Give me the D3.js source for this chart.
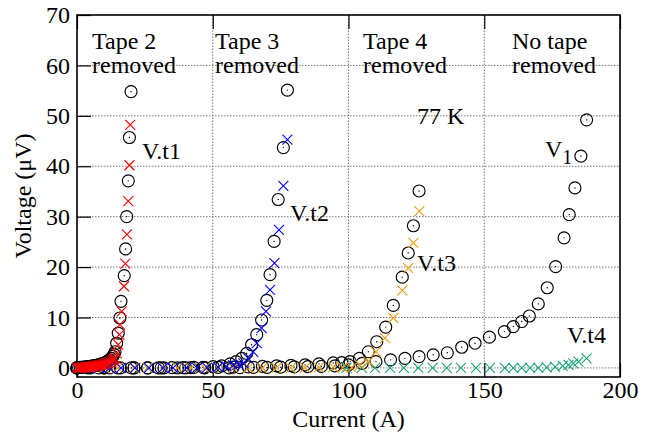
<!DOCTYPE html>
<html>
<head>
<meta charset="utf-8">
<script src="https://cdn.jsdelivr.net/npm/d3@7"></script>
<style>
  body { margin: 0; background: #fff; }
  svg text { font-family: 'Liberation Serif', 'Times New Roman', serif; fill: #000; }
</style>
</head>
<body>
<div id="chart"></div>
<script>
// ---- data (current in A, voltage in uV) ----
const xTicks = [0, 50, 100, 150, 200];
const yTicks = [0, 10, 20, 30, 40, 50, 60, 70];

// Tape 2 removed
const curA = [0, 0.6, 1.2, 1.8, 2.4, 3, 3.6, 4.2, 4.8, 5.4, 6, 6.6, 7.2, 7.8, 8.4, 9, 9.6, 10.2, 10.8, 11.4, 12, 12.6, 13.2, 13.6, 14.0, 14.6, 15.2, 15.8, 16.2, 17.4, 17.9, 18.3, 18.9, 19.3, 19.9];
const volA = [0, 0.05, 0.1, 0.1, 0.15, 0.2, 0.2, 0.25, 0.3, 0.35, 0.4, 0.45, 0.5, 0.6, 0.7, 0.8, 0.9, 1.0, 1.2, 1.4, 1.6, 1.9, 2.3, 2.7, 3.2, 4.9, 6.9, 9.9, 13.2, 18.3, 23.6, 30.0, 37.1, 45.7, 54.8];
const curT1 = [0, 0.6, 1.2, 1.8, 2.4, 3, 3.6, 4.2, 4.8, 5.4, 6, 6.6, 7.2, 7.8, 8.4, 9, 9.6, 10.2, 10.8, 11.4, 12, 12.6, 13.2, 13.6, 14.0, 14.6, 15.2, 15.6, 15.8, 16.5, 17.3, 17.8, 18.4, 18.9, 19.3, 19.6];
const volT1 = [0, 0, 0.05, 0.05, 0.1, 0.1, 0.15, 0.2, 0.2, 0.25, 0.3, 0.35, 0.4, 0.5, 0.55, 0.6, 0.7, 0.8, 0.9, 1.0, 1.1, 1.3, 1.5, 1.7, 1.9, 2.9, 4.6, 6.6, 8.6, 11.2, 16.2, 20.7, 26.5, 33.1, 40.2, 48.2];

// Tape 3 removed
const curB = [0, 4, 8, 12, 16, 21, 26, 31, 35, 39, 43, 46.4, 50.1, 53.3, 56.4, 58.6, 60.7, 62.5, 64.3, 66.2, 68.0, 69.9, 71.1, 72.6, 74.1, 76.0, 77.5];
const volB = [0, 0, 0, 0, 0, 0, 0, 0, 0.05, 0.05, 0.1, 0.1, 0.26, 0.4, 0.8, 1.25, 1.9, 2.9, 4.6, 6.6, 9.5, 13.4, 18.5, 25.1, 33.4, 43.7, 55.1];
const curT2 = [0, 4, 8, 12, 16.2, 21.4, 26.5, 31.7, 35.4, 40.5, 44.2, 47.9, 52, 55, 57.5, 59.5, 61.3, 63.1, 64.9, 66.2, 68.0, 69.6, 71.1, 72.7, 74.4, 76.0, 77.5];
const volT2 = [0, 0, 0, 0, 0, 0, 0, 0, 0, 0, 0, 0.05, 0.15, 0.3, 0.5, 0.7, 0.9, 1.9, 3.2, 4.9, 7.9, 11.2, 15.5, 20.8, 27.4, 36.1, 45.3];

// Tape 4 removed
const curC = [0, 5, 10, 15, 21, 26, 32, 37, 42, 47, 52, 57.5, 63.1, 68.3, 73.5, 78.8, 84.0, 89.1, 94.4, 97.5, 100.6, 104.0, 107.3, 110.4, 113.7, 116.5, 119.8, 122.0, 123.9, 126.0];
const volC = [0, 0, 0, 0, 0, 0, 0, 0, 0.05, 0.05, 0.1, 0.15, 0.2, 0.3, 0.4, 0.5, 0.6, 0.8, 1.0, 1.05, 1.25, 1.9, 3.2, 5.2, 8.1, 12.4, 18.0, 22.8, 28.2, 35.1];
const curT3 = [0, 5, 10, 15, 21, 26, 32, 37, 42, 47, 52, 57.5, 63.1, 68.3, 73.5, 78.8, 84.0, 89.1, 94.4, 98.0, 101.2, 104.2, 107.3, 110.1, 113.4, 116.5, 119.8, 122.0, 123.9, 126.1];
const volT3 = [0, 0, 0, 0, 0, 0, 0, 0, 0, 0, 0, 0, 0, 0, 0, 0, 0.05, 0.1, 0.15, 0.1, 0, 0.6, 1.25, 3.2, 5.9, 9.9, 15.4, 19.8, 24.8, 31.1];

// No tape removed
const curD = [0, 10, 20, 30, 40, 47, 56, 60, 65, 70, 75, 80, 85, 90, 95, 100, 105, 110.1, 115.5, 120.8, 126.0, 131.2, 136.4, 141.7, 146.6, 151.9, 157.4, 160.7, 163.8, 166.6, 169.9, 173.2, 176.3, 179.4, 181.3, 183.4, 185.6, 187.7];
const volD = [0, 0, 0, 0, 0, 0, 0, 0.05, 0.1, 0.1, 0.15, 0.2, 0.25, 0.3, 0.4, 0.6, 0.9, 1.25, 1.6, 1.9, 2.25, 2.6, 3.0, 4.1, 4.9, 6.1, 7.2, 8.2, 9.2, 10.3, 12.7, 15.9, 20.1, 25.8, 30.4, 35.7, 42.0, 49.2];
const curT4 = [99.3, 104.9, 109.8, 115.3, 120.4, 125.7, 131.0, 136.2, 141.4, 147.0, 152.1, 157.6, 160.7, 163.8, 166.9, 169.9, 173.0, 176.1, 178.9, 181.0, 182.8, 184.7, 187.7];
const volT4 = [0, 0, 0, 0, 0, 0, 0, 0, 0, 0, 0, 0, 0, 0, 0, 0, 0.1, 0.2, 0.4, 0.6, 0.9, 1.25, 1.9];

const tapeLabels = [
  { x: 92, lines: ['Tape 2', 'removed'] },
  { x: 215, lines: ['Tape 3', 'removed'] },
  { x: 363, lines: ['Tape 4', 'removed'] },
  { x: 512, lines: ['No tape', 'removed'] }
];

// ---- layout ----
const W = 662, H = 433;
const margin = { left: 77, right: 42, top: 15, bottom: 56 };

const svg = d3.select('#chart').append('svg')
  .attr('width', W).attr('height', H);

const x = d3.scaleLinear().domain([0, 200]).range([margin.left, W - margin.right]);
const y = d3.scaleLinear().domain([-1.8, 70]).range([H - margin.bottom, margin.top]);

const zip = (a, b) => a.map((d, i) => ({ c: d, v: b[i] }));

// grid
const grid = svg.append('g').attr('class', 'grid')
  .attr('stroke', '#777').attr('stroke-width', 1).attr('stroke-dasharray', '1.5,1.5');
grid.selectAll('.gx').data(xTicks.slice(1, -1)).enter().append('line')
  .attr('x1', d => x(d)).attr('x2', d => x(d))
  .attr('y1', y.range()[0]).attr('y2', y.range()[1]);
grid.selectAll('.gy').data(yTicks.slice(0, -1)).enter().append('line')
  .attr('y1', d => y(d)).attr('y2', d => y(d))
  .attr('x1', x.range()[0]).attr('x2', x.range()[1]);

// axes (gnuplot style: ticks inside, labels outside)
const fontSize = '24px';
const xAxis = svg.append('g')
  .attr('transform', `translate(0,${y.range()[0]})`)
  .call(d3.axisBottom(x).tickValues(xTicks).tickSizeInner(-14).tickSizeOuter(0).tickPadding(4));
const yAxis = svg.append('g')
  .attr('transform', `translate(${x.range()[0]},0)`)
  .call(d3.axisLeft(y).tickValues(yTicks).tickSizeInner(-14).tickSizeOuter(0).tickPadding(7));
const topAxis = svg.append('g')
  .attr('transform', `translate(0,${y.range()[1]})`)
  .call(d3.axisTop(x).tickValues(xTicks).tickSizeInner(-14).tickSizeOuter(0).tickFormat(''));

[xAxis, yAxis, topAxis].forEach(g => {
  g.select('.domain').remove();
  g.selectAll('line').attr('stroke', '#000').attr('stroke-width', 1.2);
  g.selectAll('text').attr('font-size', fontSize)
    .attr('font-family', "'Liberation Serif', 'Times New Roman', serif").attr('fill', '#000');
});

// border
svg.append('rect')
  .attr('x', x.range()[0]).attr('y', y.range()[1])
  .attr('width', x.range()[1] - x.range()[0])
  .attr('height', y.range()[0] - y.range()[1])
  .attr('fill', 'none').attr('stroke', '#000').attr('stroke-width', 1.6);

// markers
const plot = svg.append('g');

function drawCircles(cur, vol) {
  const g = plot.append('g');
  const pts = g.selectAll('g').data(zip(cur, vol)).enter().append('g')
    .attr('transform', d => `translate(${x(d.c)},${y(d.v)})`);
  pts.append('circle').attr('r', 6).attr('fill', 'none').attr('stroke', '#000').attr('stroke-width', 1.15);
  pts.append('circle').attr('r', 0.7).attr('fill', '#000');
}

function drawCrosses(cur, vol, color) {
  const s = 5;
  plot.append('g').selectAll('path').data(zip(cur, vol)).enter().append('path')
    .attr('d', d => {
      const cx = x(d.c), cy = y(d.v);
      return `M${cx - s},${cy - s}L${cx + s},${cy + s}M${cx - s},${cy + s}L${cx + s},${cy - s}`;
    })
    .attr('stroke', color).attr('stroke-width', 1.1).attr('fill', 'none');
}

drawCircles(curD, volD);
drawCircles(curC, volC);
drawCircles(curB, volB);
drawCircles(curA, volA);
drawCrosses(curT4, volT4, '#1aa37a');
drawCrosses(curT3, volT3, '#e8a010');
drawCrosses(curT2, volT2, '#0000ff');
drawCrosses(curT1, volT1, '#ff0000');

// annotations
const ann = svg.append('g').attr('font-size', fontSize);
tapeLabels.forEach(t => {
  t.lines.forEach((ln, i) => {
    ann.append('text').attr('x', t.x).attr('y', 49 + i * 24).text(ln);
  });
});
ann.append('text').attr('x', 417).attr('y', 124).text('77 K');
ann.append('text').attr('x', 142).attr('y', 159).text('V.t1');
ann.append('text').attr('x', 290).attr('y', 221).text('V.t2');
ann.append('text').attr('x', 417).attr('y', 271).text('V.t3');
ann.append('text').attr('x', 567).attr('y', 343).text('V.t4');
const v1 = ann.append('text').attr('x', 545).attr('y', 157);
v1.append('tspan').text('V');
v1.append('tspan').attr('font-size', '20px').attr('dy', 7).text('1');

// axis titles
svg.append('text')
  .attr('x', (x.range()[0] + x.range()[1]) / 2).attr('y', 427)
  .attr('text-anchor', 'middle').attr('font-size', fontSize)
  .text('Current (A)');
svg.append('text')
  .attr('transform', `translate(31,${(y.range()[0] + y.range()[1]) / 2}) rotate(-90)`)
  .attr('text-anchor', 'middle').attr('font-size', fontSize)
  .text('Voltage (μV)');
</script>
</body>
</html>
